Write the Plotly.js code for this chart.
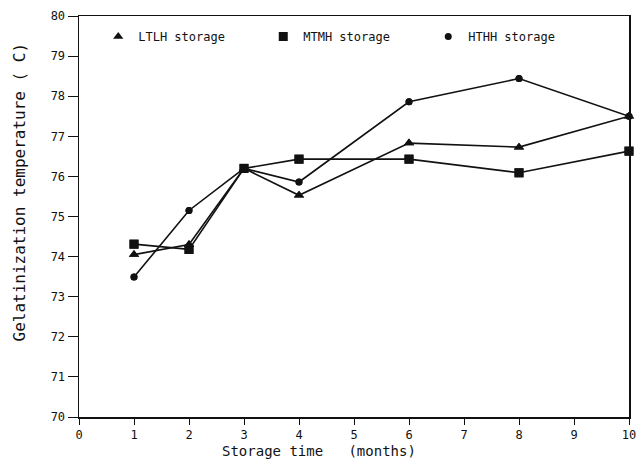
<!DOCTYPE html>
<html>
<head>
<meta charset="utf-8">
<script src="https://cdn.plot.ly/plotly-3.0.1.min.js"></script>
<style>html,body{margin:0;padding:0;background:#fff;}#chart{width:637px;height:461px;}</style>
</head>
<body>
<div id="chart"></div>
<script>
const months = [1, 2, 3, 4, 6, 8, 10];
const ltlh = [74.05, 74.3, 76.2, 75.53, 76.83, 76.73, 77.5];
const mtmh = [74.31, 74.18, 76.2, 76.43, 76.43, 76.09, 76.63];
const hthh = [73.49, 75.15, 76.2, 75.86, 77.86, 78.44, 77.5];
const seriesNames = ['LTLH storage', 'MTMH storage', 'HTHH storage'];
const xTicks = [0,1,2,3,4,5,6,7,8,9,10];
const yTicks = [70,71,72,73,74,75,76,77,78,79,80];
const xTitle = 'Storage time   (months)';
const yTitle = 'Gelatinization temperature ( C)';

const symbols = ['triangle-up', 'square', 'circle'];
const sizes = [9, 9, 7];
const data = [ltlh, mtmh, hthh];
const traces = [];
data.forEach((ys, i) => {
  traces.push({x: months, y: ys, mode: 'lines+markers', name: seriesNames[i], showlegend: false,
    line: {color: '#111', width: 1.6}, marker: {symbol: symbols[i], size: sizes[i], color: '#111'}, cliponaxis: false});
});
data.forEach((ys, i) => {
  traces.push({x: months, y: ys, mode: 'markers', name: seriesNames[i], showlegend: true,
    marker: {symbol: symbols[i], size: sizes[i], color: '#111'}, cliponaxis: false});
});

const font = 'DejaVu Sans Mono, monospace';
const layout = {
  width: 637, height: 461,
  margin: {l: 79, r: 8, t: 16, b: 44, autoexpand: false},
  paper_bgcolor: '#fff', plot_bgcolor: '#fff',
  font: {family: font, color: '#111', size: 12},
  showlegend: true,
  legend: {orientation: 'h', x: 0.035, y: 0.985, xanchor: 'left', yanchor: 'top',
    entrywidth: 120, entrywidthmode: 'pixels', itemwidth: 30,
    font: {family: font, size: 12, color: '#111'}, bgcolor: 'rgba(0,0,0,0)'},
  xaxis: {range: [0, 10], tickvals: xTicks, ticktext: xTicks.map(String), automargin: false,
    showgrid: false, zeroline: false, showline: true, linecolor: '#111', linewidth: 1.5, mirror: true,
    ticks: 'outside', ticklen: 6, tickwidth: 1, tickcolor: '#111', ticklabeloverflow: 'allow',
    tickfont: {family: font, size: 12}},
  yaxis: {range: [70, 80], tickvals: yTicks, ticktext: yTicks.map(String), automargin: false,
    showgrid: false, zeroline: false, showline: true, linecolor: '#111', linewidth: 1.5, mirror: true,
    ticks: 'outside', ticklen: 10, tickwidth: 1, tickcolor: '#111', ticklabeloverflow: 'allow',
    tickfont: {family: font, size: 12}},
  annotations: [
    {text: xTitle, xref: 'paper', yref: 'paper', x: 0.437, y: -0.0845, xanchor: 'center', yanchor: 'middle',
      showarrow: false, font: {family: font, size: 14, color: '#111'}},
    {text: yTitle, xref: 'paper', yref: 'paper', x: -0.109, y: 0.56, xanchor: 'center', yanchor: 'middle',
      textangle: -90, showarrow: false, font: {family: font, size: 16, color: '#111'}}
  ]
};
Plotly.newPlot('chart', traces, layout, {displayModeBar: false, staticPlot: true});
</script>
</body>
</html>
